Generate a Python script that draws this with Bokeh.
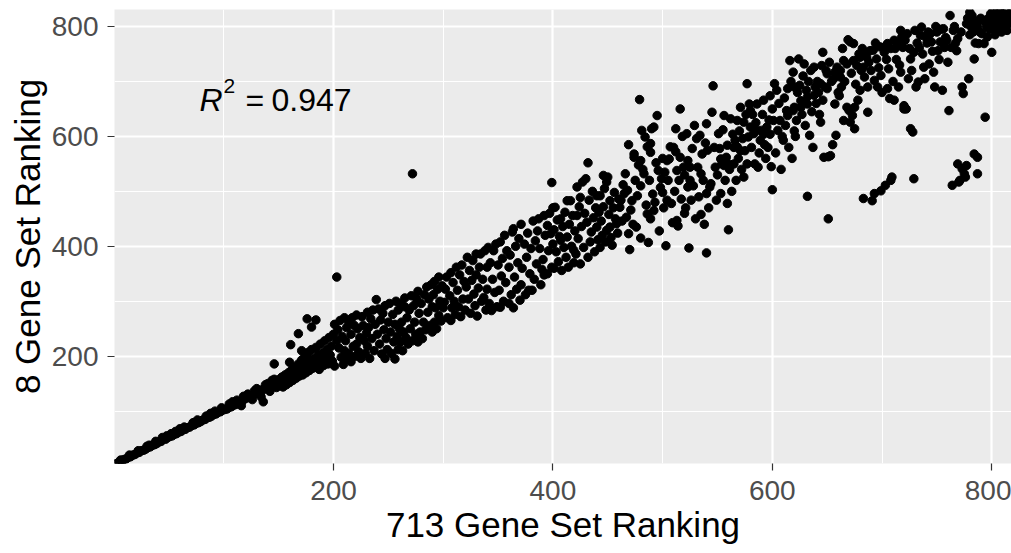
from bokeh.plotting import figure
from bokeh.models import ColumnDataSource, Range1d, FixedTicker, Label
from bokeh.embed import file_html
from bokeh.resources import INLINE

# ---- data: (713 gene set rank, 8 gene set rank) ----
seg_0_100 = [(1,4),(3,5),(5,8),(7,9),(9,12),(11,13),(13,16),(15,17),(17,20),(19,21),(21,24),(23,25),(25,28),(27,29),(29,31),(31,34),(33,35),(35,38),(37,39),(39,41),(41,44),(43,45),(45,50),(47,49),(49,52),(51,54),(53,55),(55,58),(57,59),(59,62),(61,63),(63,66),(65,67),(67,70),(69,71),(71,74),(73,75),(75,78),(77,79),(79,81),(81,84),(83,85),(85,88),(87,89),(89,91),(91,94),(93,95),(95,98),(97,99),(99,102),(44,52),(60,68),(72,79),(88,96),(30,36),(52,59),
(6,11),(14,20),(22,28),(32,38),(38,45),(48,55),(56,63),(64,71),(76,84),(84,91),(92,100),(98,106)]

seg_100_150 = [(101,103),(103,104),(105,107),(107,108),(109,111),(111,112),(113,116),(115,117),(117,119),(119,122),(121,124),(123,125),(125,128),(127,130),(129,132),(131,134),(133,137),(135,139),(137,140),(139,143),(141,146),(143,147),(145,150),(147,152),(149,154),(105,113),(112,120),(116,110),(122,131),(126,121),(130,141),(134,126),(136,117),(138,148),(142,136),(144,156),(148,143),
(108,117),(118,127),(128,137),(140,150),(146,158)]

seg_150_200 = [(150,146),(151,158),(152,150),(153,162),(154,144),(155,153),(156,166),(157,148),(158,158),(159,170),(160,152),(160,189),(161,221),(161,163),(162,175),(163,156),(164,168),(165,180),(166,160),(167,172),(168,241),(168,186),(169,164),(170,176),(171,210),(171,193),(172,166),(173,181),(174,200),(175,170),(176,268),(176,186),(177,207),(178,174),(179,192),(180,253),(180,212),(181,178),(182,196),(183,183),(184,266),(184,216),(185,188),(186,202),(187,176),(188,222),(189,193),(190,206),(191,183),(192,228),(193,198),(194,212),(195,186),(196,234),(197,202),(198,218),(199,191),(200,240),(146,186)]

seg_200_300 = [(201,182),(201,258),(203,228),(203,344),(204,248),(205,215),(206,265),(207,198),(208,236),(209,185),(210,270),(210,210),
(211,228),(212,195),(212,252),(214,205),(214,262),(216,240),(216,190),(217,270),(218,218),(219,256),(220,200),
(221,275),(221,222),(222,250),(223,208),(224,234),(225,196),(226,272),(227,256),(228,228),(229,205),(230,242),
(231,218),(231,280),(232,252),(233,196),(234,268),(235,232),(236,284),(237,210),(238,258),(239,303),(240,240),
(241,286),(242,222),(243,266),(244,204),(245,278),(246,248),(247,196),(247,292),(248,232),(249,212),(250,262),
(251,296),(252,244),(253,205),(254,276),(255,226),(256,195),(256,258),(257,300),(258,236),(259,212),(259,284),(260,250),
(261,296),(261,226),(262,262),(263,210),(264,244),(265,290),(265,306),(266,234),(267,270),(268,222),(269,284),(270,250),
(271,310),(272,532),(272,228),(273,292),(274,262),(275,240),(276,304),(277,226),(277,318),(278,278),(279,244),(280,296),
(281,232),(282,262),(283,312),(284,248),(285,326),(286,280),(287,304),(288,256),(289,330),(290,244),(290,290),
(291,312),(292,262),(292,336),(293,288),(294,250),(295,322),(296,274),(296,344),(297,300),(298,264),(299,328),(300,288)]

seg_300_400 = [(301,298),(302,322),(303,344),(304,270),(306,310),(307,265),(307,352),(308,288),(309,334),(310,300),
(311,276),(312,362),(313,320),(314,290),(315,348),(316,272),(317,366),(318,304),(319,336),(320,284),
(321,326),(322,380),(323,304),(324,356),(325,278),(326,338),(327,374),(328,313),(329,292),(330,386),(330,348),
(331,273),(332,324),(333,362),(334,386),(335,300),(336,340),(337,307),(338,392),(339,284),(340,362),(340,322),
(341,398),(342,296),(343,370),(344,283),(345,340),(346,392),(347,316),(348,404),(349,290),(350,366),
(351,320),(352,289),(352,408),(353,346),(354,378),(355,300),(356,420),(357,334),(358,392),(360,296),(360,362),
(361,384),(362,312),(363,426),(364,288),(364,432),(365,344),(366,400),(367,322),(368,370),(369,414),(370,302),
(371,330),(371,440),(372,360),(374,404),(375,312),(376,380),(377,424),(378,320),(379,350),(380,396),
(381,320),(382,446),(383,340),(384,410),(385,368),(386,428),(387,450),(388,396),(389,330),(390,358),
(391,376),(392,348),(392,456),(393,420),(395,350),(395,438),(396,392),(397,460),(398,423),(399,516),(399,362),(400,404),(400,470)]

seg_400_500 = [(401,360),(401,430),(402,471),(403,390),(404,448),(405,372),(406,418),(407,450),(407,411),(408,356),(409,436),(410,398),(411,462),(412,380),(413,417),(413,483),(414,362),(415,440),(416,483),(417,400),(418,456),(419,393),(419,370),(420,428),
(421,386),(422,508),(422,456),(423,414),(424,472),(425,489),(425,368),(426,436),(427,517),(428,398),(429,460),(430,523),(431,444),(432,552),(432,380),(433,484),(434,408),(435,426),(436,500),(437,452),(438,390),(439,470),(440,435),(440,492),
(441,412),(442,462),(443,398),(443,492),(444,446),(445,420),(446,529),(446,472),(447,505),(448,408),(449,517),(449,429),(450,526),(451,458),(452,483),(452,435),(453,416),(454,402),(455,470),(456,498),(457,450),(458,441),(459,424),(460,486),
(461,471),(462,484),(463,446),(464,512),(465,496),(466,532),(467,453),(468,502),(469,423),(469,585),(470,394),(471,466),(472,483),(473,440),(474,562),(474,568),(475,520),(476,435),(477,492),(478,548),(479,667),(480,556),(480,510),(480,415),
(481,611),(482,540),(483,532),(484,599),(485,475),(486,581),(486,459),(487,407),(488,520),(489,587),(489,571),(489,450),(490,614),(491,495),(492,617),(492,465),(493,480),(494,552),(495,638),(496,538),(497,428),(498,507),(499,523),(500,498),(500,560)]

seg_500_600 = [(501,470),(502,535),(503,401),(504,556),(504,484),(505,520),(506,559),(507,581),(508,478),(509,443),(510,580),(511,500),(512,614),(512,572),(513,447),(513,538),(514,437),(515,520),(516,650),(516,562),(517,486),(518,600),(519,544),(520,460),(520,530),
(521,470),(522,605),(523,556),(523,508),(524,397),(525,544),(525,520),(526,484),(527,578),(528,510),(529,620),(530,450),(531,596),(532,544),(533,490),(534,602),(535,532),(535,458),(536,568),(537,520),(538,440),(539,588),(540,388),(540,496),(540,623),
(541,575),(542,470),(543,508),(544,514),(545,644),(546,692),(547,580),(548,544),(549,484),(550,530),(551,605),(552,578),(553,559),(553,496),(554,550),(555,612),(556,547),(556,638),(557,520),(558,562),(559,478),(559,584),(560,430),(560,550),
(561,540),(562,632),(563,500),(564,604),(565,580),(565,550),(566,593),(567,520),(568,629),(568,581),(569,560),(570,610),(571,574),(571,653),(572,540),(573,596),(574,626),(574,526),(575,574),(576,640),(577,696),(577,550),(578,599),(579,659),(580,617),(580,647),
(581,580),(582,640),(583,605),(584,550),(585,625),(586,659),(586,611),(587,544),(588,570),(589,593),(590,611),(591,640),(592,666),(592,604),(593,585),(594,560),(595,617),(596,580),(597,630),(598,604),(598,674),(599,545),(600,503),(600,650)]

seg_600_700 = [(601,629),(602,696),(603,570),(604,684),(605,611),(606,660),(607,629),(608,540),(609,600),(610,593),(611,670),(612,620),(613,647),(614,687),(614,638),(615,580),(616,738),(617,700),(618,560),(619,717),(619,647),(620,653),(620,690),(620,610),
(621,600),(622,629),(623,680),(624,741),(625,693),(626,653),(626,665),(627,640),(628,710),(629,732),(630,620),(631,684),(632,659),(632,672),(632,491),(633,700),(634,602),(635,720),(636,645),(637,580),(638,726),(638,675),(639,690),(640,660),
(641,700),(642,680),(643,640),(644,696),(644,626),(645,729),(646,753),(646,666),(647,562),(648,690),(649,720),(650,714),(650,687),(651,563),(651,450),(652,735),(653,565),(654,700),(655,585),(656,705),(657,717),(657,659),(658,602),(659,726),(660,680),
(661,674),(662,708),(662,720),(663,690),(664,760),(665,738),(665,629),(666,700),(668,732),(668,653),(669,776),(670,647),(671,626),(671,772),(672,715),(673,638),(674,769),(674,738),(675,653),(675,614),(676,695),(677,729),(678,666),(679,750),(680,744),(680,684),
(681,720),(682,760),(683,726),(683,487),(684,708),(685,750),(686,744),(687,690),(687,644),(688,735),(689,756),(690,720),(691,483),(692,757),(693,702),(693,496),(694,770),(695,741),(696,690),(697,725),(698,763),(699,711),(699,501),(700,680)]

seg_700_818 = [(701,762),(702,753),(703,511),(704,740),(705,687),(705,769),(706,723),(707,669),(708,520),(708,760),(709,526),(710,700),(711,775),(711,666),(712,760),(713,740),(714,769),(715,690),(716,730),(717,793),(717,717),(718,781),(719,762),(720,656),(720,650),
(721,775),(722,650),(723,787),(724,705),(725,760),(726,614),(726,741),(727,720),(728,608),(729,523),(729,753),(730,793),(731,690),(732,770),(733,699),(734,762),(735,784),(736,799),(737,750),(738,726),(739,705),(740,780),
(741,770),(742,790),(743,732),(744,787),(745,772),(746,755),(747,717),(748,690),(749,800),(750,790),(751,756),(752,740),(753,772),(754,795),(755,684),(756,796),(757,762),(758,780),(759,775),(760,735),
(761,647),(762,820),(763,762),(764,511),(765,793),(766,800),(767,770),(768,756),(769,778),(769,550),(770,517),(771,520),(772,790),(773,690),(773,541),(774,678),(775,532),(776,526),(777,547),(777,805),(778,815),(779,705),(780,826),(780,785),
(781,800),(782,820),(783,790),(784,811),(784,741),(784,568),(785,770),(786,805),(787,799),(787,562),(787,532),(788,769),(789,790),(790,815),(791,787),(792,811),(793,769),(794,635),(795,800),(796,781),(797,815),(798,795),(799,823),(800,753),(800,810),
(801,828),(802,805),(803,820),(804,795),(805,829),(806,812),(807,800),(808,826),(809,790),(810,815),(811,823),(812,800),(813,830),(814,793),(815,818),(816,806),(817,825),(818,812),(803,785),(809,805)]

x_ticks = [200, 400, 600, 800]
x_minor = [100, 300, 500, 700]
y_ticks = [200, 400, 600, 800]
y_minor = [100, 300, 500, 700]
x_label = "713 Gene Set Ranking"
y_label = "8 Gene Set Ranking"
r2_value = "0.947"

FONT = "Liberation Sans"

points = (seg_0_100 + seg_100_150 + seg_150_200 + seg_200_300 + seg_300_400
          + seg_400_500 + seg_500_600 + seg_600_700 + seg_700_818)
src = ColumnDataSource(data=dict(x=[pt[0] for pt in points], y=[pt[1] for pt in points]))

p = figure(width=1011, height=553, output_backend="svg", toolbar_location=None,
           x_range=Range1d(0.4, 818), y_range=Range1d(4.7, 831),
           min_border_left=114, min_border_right=0, min_border_top=9, min_border_bottom=90)
p.background_fill_color = "#EBEBEB"
p.border_fill_color = "white"
p.outline_line_color = None

for ax, ticks, minor, lab in ((p.xaxis, x_ticks, x_minor, x_label), (p.yaxis, y_ticks, y_minor, y_label)):
    ax.ticker = FixedTicker(ticks=ticks, minor_ticks=minor)
    ax.axis_label = lab
    ax.axis_label_text_font = FONT
    ax.axis_label_text_font_size = "35px"
    ax.axis_label_text_font_style = "normal"
    ax.axis_label_text_color = "black"
    ax.axis_label_standoff = 2
    ax.major_label_text_font = FONT
    ax.major_label_text_font_size = "28px"
    ax.major_label_text_color = "#4D4D4D"
    ax.axis_line_color = None
    ax.major_tick_line_color = "#333333"
    ax.major_tick_line_width = 1.2
    ax.major_tick_out = 7
    ax.major_tick_in = 0
    ax.minor_tick_line_color = None
p.xaxis.major_label_standoff = 10
p.yaxis.major_label_standoff = 9

for g in (p.xgrid, p.ygrid):
    g.grid_line_color = "white"
    g.grid_line_width = 2.2
    g.minor_grid_line_color = "white"
    g.minor_grid_line_width = 1.1

p.scatter("x", "y", source=src, size=8.5, marker="circle", color="black")

# R^2 annotation
p.add_layout(Label(x=77.8, y=666.7, text="R", text_font=FONT, text_font_size="32px", text_color="black",
                   text_font_style="italic", text_baseline="alphabetic", text_align="left"))
p.add_layout(Label(x=99.7, y=692.4, text="2", text_font=FONT, text_font_size="21px", text_color="black",
                   text_baseline="alphabetic", text_align="left"))
p.add_layout(Label(x=119.8, y=666.7, text="=", text_font=FONT, text_font_size="32px", text_color="black",
                   text_baseline="alphabetic", text_align="left"))
p.add_layout(Label(x=143.5, y=666.7, text=r2_value, text_font=FONT, text_font_size="32px", text_color="black",
                   text_baseline="alphabetic", text_align="left"))

open("out.html", "w").write(file_html(p, INLINE))
